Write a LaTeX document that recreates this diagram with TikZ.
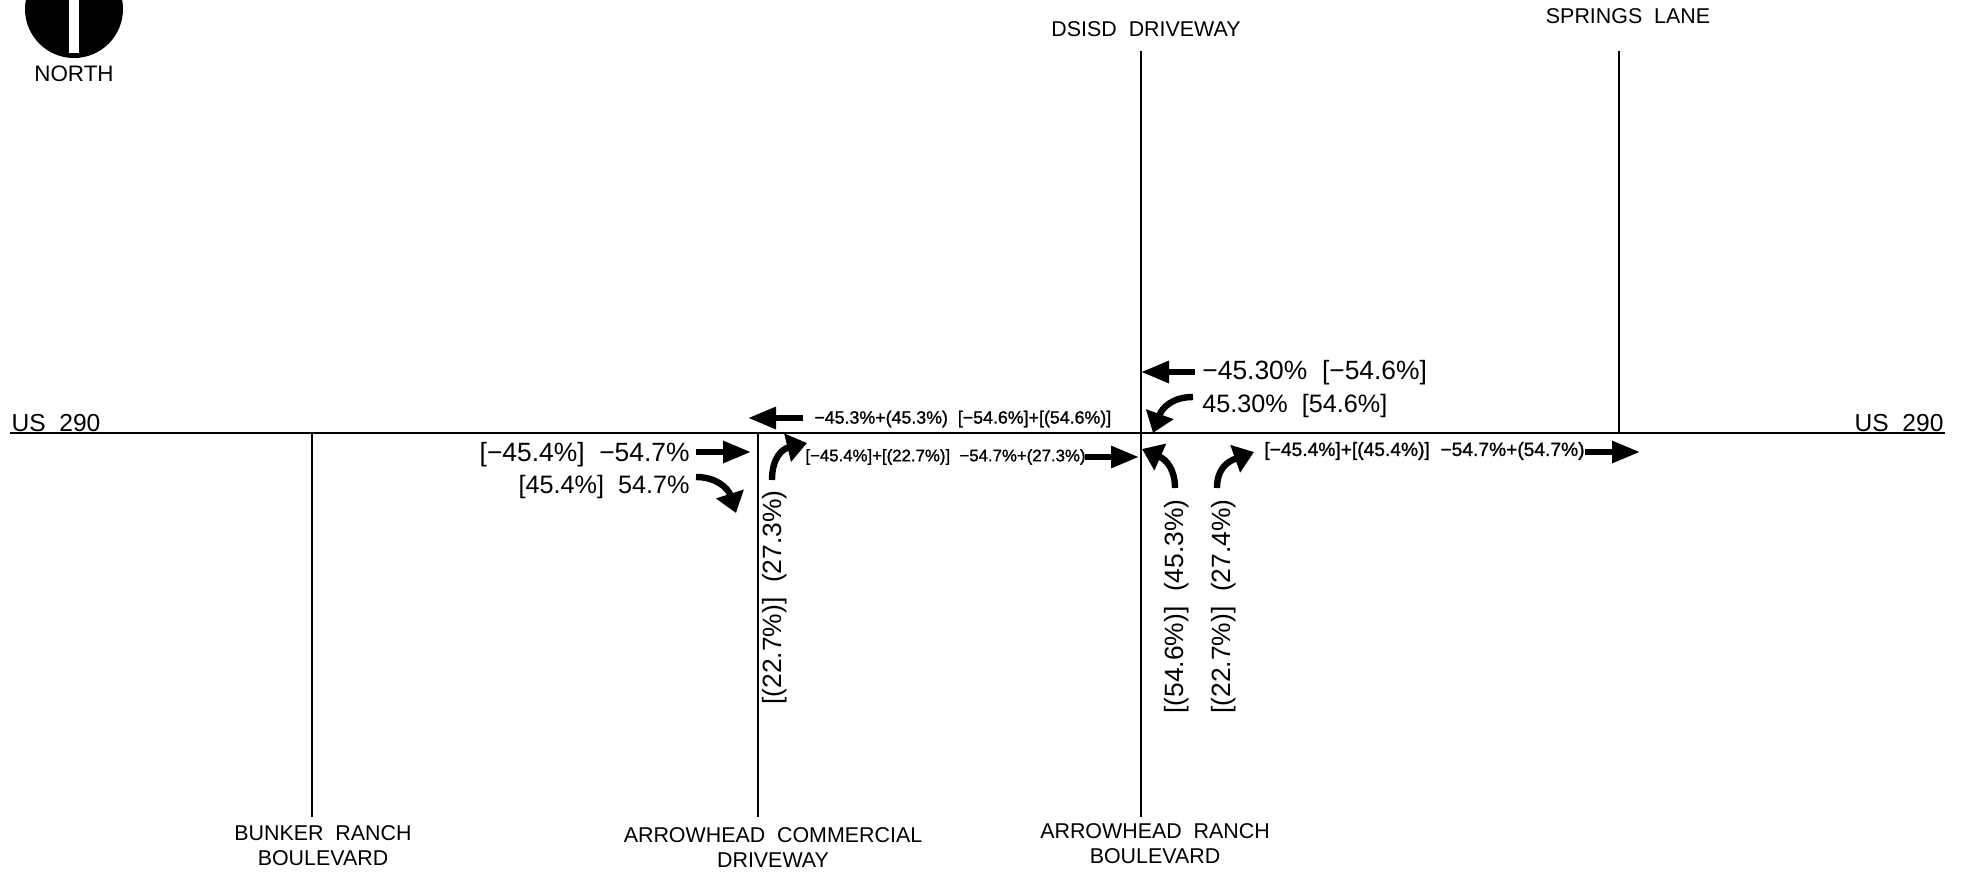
\documentclass[tikz,border=0pt]{standalone}
\usepackage{fontspec}
\setmainfont{Liberation Sans}
\newfontfamily\flowface[FakeBold=1.2]{Liberation Sans}
\usetikzlibrary{arrows.meta}

\tikzset{
    road/.style={line width=0.75pt},
    flow/.style={line width=3pt,-{Triangle[length=14pt,width=10.5pt]}},
    turn/.style={line width=3.2pt,-{Triangle[length=10pt,width=14pt]}},
    streetname/.style={inner sep=0pt,align=center,font=\fontsize{10.7}{12.5}\selectfont},
    volume/.style={inner sep=0pt,font=\fontsize{13.2}{15}\selectfont},
    volumeturn/.style={inner sep=0pt,font=\fontsize{12.6}{15}\selectfont},
    volumesum/.style={inner sep=0pt,font=\flowface\fontsize{#1}{10}\selectfont},
}

\begin{document}
\begin{tikzpicture}[x=0.5pt,y=-0.5pt,black]
\useasboundingbox (0,0) rectangle (1965,873);

% North arrow
\fill (74,9) circle (49);
\fill[white] (69,-5) rectangle (79,53);
\node[inner sep=0pt,font=\fontsize{11.2}{13}\selectfont] (north) at (74,74) {NORTH};

% Roads
\coordinate (usW) at (10,433);
\coordinate (usE) at (1945,433);
\coordinate (bunkerS) at (312,817);
\coordinate (bunkerN) at (312,433);
\coordinate (commercialS) at (758,817);
\coordinate (commercialN) at (758,433);
\coordinate (ranchS) at (1141,817);
\coordinate (dsisdN) at (1141,51);
\coordinate (springsN) at (1619,51);
\coordinate (springsS) at (1619,433);
\draw[road] (usW) -- (usE);
\draw[road] (bunkerS) -- (bunkerN);
\draw[road] (commercialS) -- (commercialN);
\draw[road] (ranchS) -- (dsisdN);
\draw[road] (springsN) -- (springsS);

% Street names
\node[streetname,font=\fontsize{12.3}{14}\selectfont] (usWest) at (56,423) {US~~290};
\node[streetname,font=\fontsize{12.3}{14}\selectfont] (usEast) at (1899,423) {US~~290};
\node[streetname] (dsisd) at (1146,29) {DSISD~~DRIVEWAY};
\node[streetname] (springs) at (1628,16) {SPRINGS~~LANE};
\node[streetname] (bunker) at (323,846) {BUNKER~~RANCH\\BOULEVARD};
\node[streetname] (commercial) at (773,848) {ARROWHEAD~~COMMERCIAL\\DRIVEWAY};
\node[streetname] (ranch) at (1155,844) {ARROWHEAD~~RANCH\\BOULEVARD};

% Through movements
\coordinate (wbA) at (803,418);
\coordinate (wbB) at (748,418);
\coordinate (ebA) at (696,452);
\coordinate (ebB) at (751,452);
\coordinate (ebmidA) at (1085,457);
\coordinate (ebmidB) at (1139,457);
\coordinate (wbeastA) at (1195,372);
\coordinate (wbeastB) at (1141,372);
\coordinate (ebeastA) at (1585,452);
\coordinate (ebeastB) at (1640,452);
\draw[flow] (wbA) -- (wbB);
\draw[flow] (ebA) -- (ebB);
\draw[flow] (ebmidA) -- (ebmidB);
\draw[flow] (wbeastA) -- (wbeastB);
\draw[flow] (ebeastA) -- (ebeastB);

% Turning movements
\coordinate (rtA) at (696,477);
\coordinate (rtB) at (736,513);
\coordinate (nbA) at (772,480);
\coordinate (nbB) at (807,443);
\coordinate (ltA) at (1193,397);
\coordinate (ltB) at (1153,433);
\coordinate (nlA) at (1175,488);
\coordinate (nlB) at (1142,449);
\coordinate (nrA) at (1217,488);
\coordinate (nrB) at (1254,452);
\draw[turn] (rtA) .. controls (716,477) and (728,488) .. (rtB);
\draw[turn] (nbA) .. controls (772,458) and (782,449) .. (nbB);
\draw[turn] (ltA) .. controls (1172,397) and (1162,408) .. (ltB);
\draw[turn] (nlA) .. controls (1175,470) and (1167,460) .. (nlB);
\draw[turn] (nrA) .. controls (1217,470) and (1226,462) .. (nrB);

% Volumes
\node[volume,anchor=east] (ebLabel) at (690,455) {[−45.4\%]~~−54.7\%};
\node[volumeturn,anchor=east] (rtLabel) at (690,487) {[45.4\%]~~54.7\%};
\node[volume,anchor=west] (wbLabel) at (1202,373) {−45.30\%~~[−54.6\%]};
\node[volumeturn,anchor=west] (ltLabel) at (1202,406) {45.30\%~~[54.6\%]};
\node[volumesum=8.9,anchor=west] (wbSum) at (814,419) {−45.3\%+(45.3\%)~~[−54.6\%]+[(54.6\%)]};
\node[volumesum=8.4,anchor=west] (ebSum) at (805,457) {[−45.4\%]+[(22.7\%)]~~−54.7\%+(27.3\%)};
\node[volumesum=9.6,anchor=west] (eastSum) at (1264,451) {[−45.4\%]+[(45.4\%)]~~−54.7\%+(54.7\%)};
\node[volume,rotate=90,anchor=west] (nbLabel) at (775,705) {[(22.7\%)]~~(27.3\%)};
\node[volume,rotate=90,anchor=west] (nlLabel) at (1177,714) {[(54.6\%)]~~(45.3\%)};
\node[volume,rotate=90,anchor=west] (nrLabel) at (1224,714) {[(22.7\%)]~~(27.4\%)};

\end{tikzpicture}
\end{document}
